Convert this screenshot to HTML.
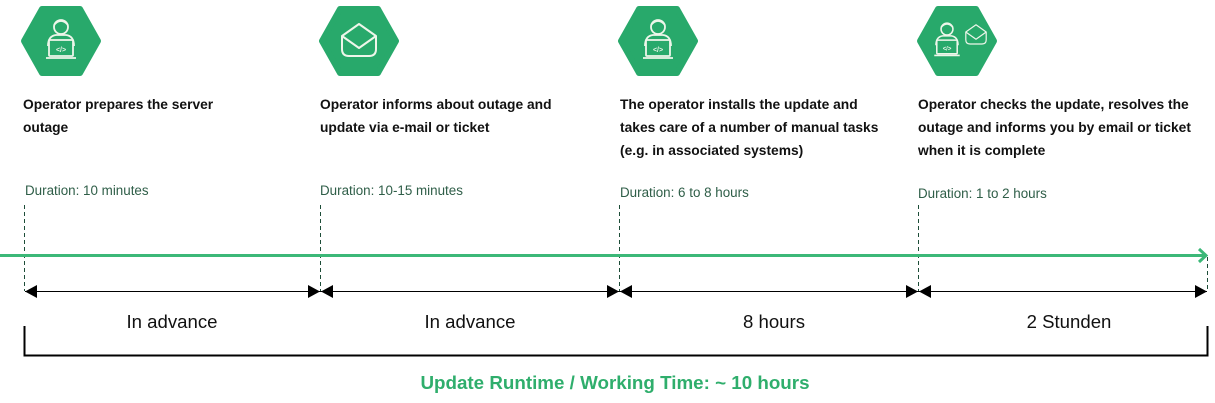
<!DOCTYPE html>
<html><head><meta charset="utf-8"><style>
html,body{margin:0;padding:0;background:#fff;}
svg{display:block;font-family:"Liberation Sans",sans-serif;}
.t{font-weight:bold;font-size:13.8px;fill:#111;}
.d{font-size:13.4px;fill:#2f5e48;}
.l{font-size:18.6px;fill:#111;}
</style></head><body>
<svg width="1215" height="403" viewBox="0 0 1215 403">
<defs>
<g id="hex"><polygon points="-37,0 -19,-32 19,-32 37,0 19,32 -19,32" fill="#28a96b" stroke="#28a96b" stroke-width="6" stroke-linejoin="round"/></g>
<g id="person" fill="none" stroke="#eef6ea" stroke-width="1.8">
<circle cx="0" cy="-14" r="7"/>
<path d="M-7,-16 Q0,-24 7,-16"/>
<path d="M-13,5 Q-13,-5 -5,-6 L5,-6 Q13,-5 13,5"/>
<rect x="-12" y="-1" width="24" height="16" rx="1"/>
<line x1="-15" y1="17" x2="15" y2="17"/>
<text x="0" y="11" font-size="7" font-weight="bold" fill="#eef6ea" stroke="none" text-anchor="middle">&lt;/&gt;</text>
</g>
<g id="mail" fill="none" stroke="#eef6ea" stroke-width="2" stroke-linejoin="round">
<path d="M-17,-5 L0,-17 L17,-5 L17,8 Q17,15 10,15 L-10,15 Q-17,15 -17,8 Z"/>
<path d="M-17,-5 L0,7 L17,-5"/>
</g>
</defs>
<use href="#hex" x="61" y="41"/><use href="#person" x="61" y="41"/>
<use href="#hex" x="359" y="41"/><use href="#mail" x="359" y="41"/>
<use href="#hex" x="658" y="41"/><use href="#person" x="658" y="41"/>
<use href="#hex" x="957" y="41"/>
<g transform="translate(947,41) scale(0.85)"><use href="#person"/></g>
<g transform="translate(976,35) scale(0.6)"><use href="#mail"/></g>

<text class="t"><tspan x="23" y="109">Operator prepares the server</tspan><tspan x="23" y="132">outage</tspan></text>
<text class="t"><tspan x="320" y="109">Operator informs about outage and</tspan><tspan x="320" y="132">update via e-mail or ticket</tspan></text>
<text class="t"><tspan x="620" y="109">The operator installs the update and</tspan><tspan x="620" y="132">takes care of a number of manual tasks</tspan><tspan x="620" y="155">(e.g. in associated systems)</tspan></text>
<text class="t"><tspan x="918" y="109">Operator checks the update, resolves the</tspan><tspan x="918" y="132">outage and informs you by email or ticket</tspan><tspan x="918" y="155">when it is complete</tspan></text>

<text class="d" x="25" y="195">Duration: 10 minutes</text>
<text class="d" x="320" y="195">Duration: 10-15 minutes</text>
<text class="d" x="620" y="197">Duration: 6 to 8 hours</text>
<text class="d" x="918" y="198">Duration: 1 to 2 hours</text>

<g stroke="#1d4d38" stroke-width="1" stroke-dasharray="4,3">
<line x1="24.5" y1="205" x2="24.5" y2="291"/>
<line x1="320.5" y1="205" x2="320.5" y2="291"/>
<line x1="619.5" y1="205" x2="619.5" y2="291"/>
<line x1="918.5" y1="205" x2="918.5" y2="291"/>
<line x1="1207.5" y1="257" x2="1207.5" y2="291"/>
</g>
<line x1="0" y1="255.5" x2="1205" y2="255.5" stroke="#3cb878" stroke-width="3"/>
<path d="M1199,249 L1206,255.5 L1199,262" fill="none" stroke="#3cb878" stroke-width="3"/>

<line x1="25" y1="291.5" x2="1207" y2="291.5" stroke="#000" stroke-width="1"/>
<g fill="#000">
<polygon points="25,291.5 37,285 37,298"/>
<polygon points="320,291.5 308,285 308,298"/><polygon points="321,291.5 333,285 333,298"/>
<polygon points="619,291.5 607,285 607,298"/><polygon points="620,291.5 632,285 632,298"/>
<polygon points="918,291.5 906,285 906,298"/><polygon points="919,291.5 931,285 931,298"/>
<polygon points="1207,291.5 1195,285 1195,298"/>
</g>
<text class="l" x="172" y="328" text-anchor="middle">In advance</text>
<text class="l" x="470" y="328" text-anchor="middle">In advance</text>
<text class="l" x="774" y="328" text-anchor="middle">8 hours</text>
<text class="l" x="1069" y="328" text-anchor="middle">2 Stunden</text>

<path d="M24.5,326 L24.5,355.5 L1207.5,355.5 L1207.5,326" fill="none" stroke="#000" stroke-width="2"/>
<text x="615" y="389" text-anchor="middle" font-size="18.8" font-weight="bold" fill="#2fae6c">Update Runtime / Working Time: ~ 10 hours</text>
</svg>
</body></html>
